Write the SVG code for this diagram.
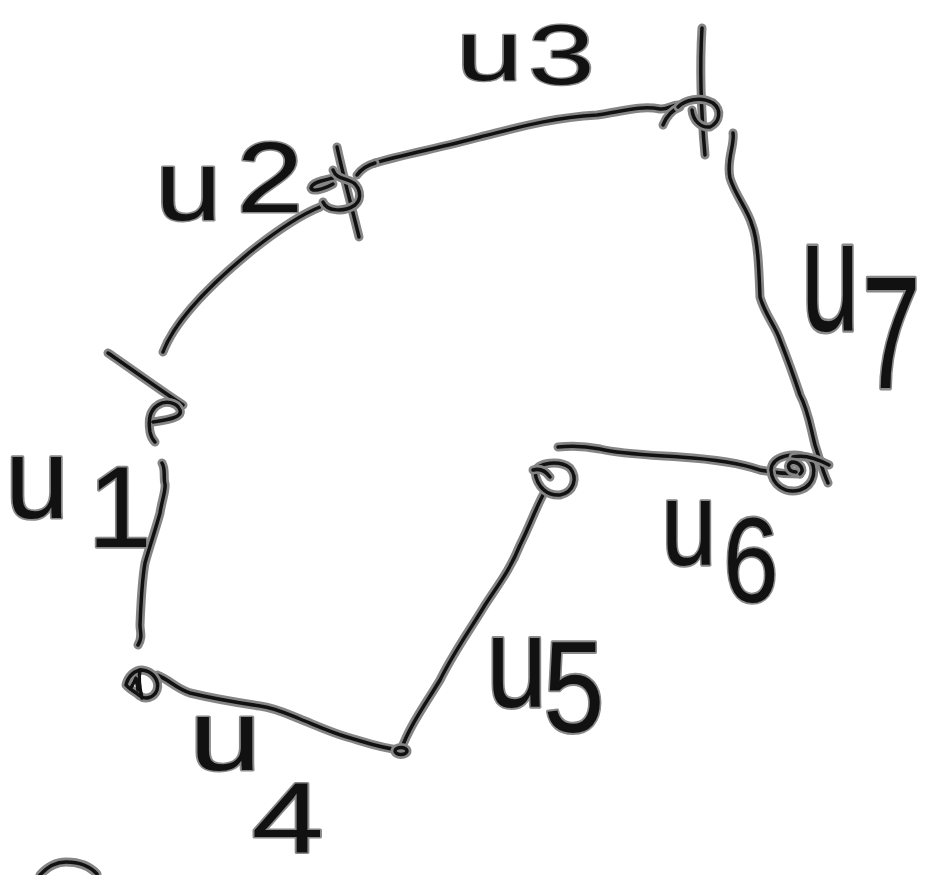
<svg xmlns="http://www.w3.org/2000/svg" xmlns:xlink="http://www.w3.org/1999/xlink" width="925" height="875" viewBox="0 0 925 875">
<style>
.h{fill:none;stroke:#858585;stroke-width:9;stroke-linecap:round;stroke-linejoin:round}
.c{fill:none;stroke:#111;stroke-width:3.5;stroke-linecap:round;stroke-linejoin:round}
.lbl{font-family:"Liberation Sans",Arial,sans-serif;font-size:100px;fill:#111;stroke:#8a8a8a;stroke-width:3;paint-order:stroke;stroke-linejoin:round}
</style>
<defs>
<path id="pe1" d="M162,463 C166,470 163,478 165,484 C166,490 162,500 160,513 C156,528 150,545 145,563 C142,580 141,600 140,625 C140,632 143,637 138,645"/>
<path id="pe2" d="M163,352 C175,320 210,285 250,252 C275,232 300,215 320,207"/>
<path id="pe3" d="M375,163 C400,155 440,148 480,137 C520,127 550,118 597,115 C620,112 640,105 660,109 C667,110 672,105 678,105"/>
<path id="pe3b" d="M663,125 C667,115 672,110 680,107"/>
<path id="pe7" d="M733,133 C735,145 726,160 730,178 C735,195 748,210 752,225 C758,240 759,270 760,297 C765,315 775,325 780,340 C788,360 795,380 800,395 C808,410 810,425 815,445 C820,460 822,470 828,483"/>
<path id="pe6" d="M558,447 C575,445 590,447 600,449 C620,454 650,455 680,457 C710,459 740,463 760,470 C770,472 790,474 800,474"/>
<path id="pe5" d="M543,495 C535,510 530,525 520,545 C510,570 498,585 485,605 C470,630 455,650 440,680 C425,705 410,725 401,750"/>
<path id="pe4" d="M400,750 C380,748 365,742 347,737 C330,732 315,725 300,719 C285,713 275,708 260,706 C240,703 215,699 190,693 C175,688 170,680 157,675"/>
<path id="pn1a" d="M108,353 C130,368 160,390 183,405"/>
<path id="pn1b" d="M153,422 C165,420 183,418 180,410 C177,402 165,400 158,405 C150,410 148,420 150,432 C151,437 153,440 155,442"/>
<path id="pn2a" d="M337,147 C343,175 352,208 359,237"/>
<path id="pn2b" d="M333,178 C325,180 312,182 311,188 C312,192 322,190 333,184"/>
<path id="pn2c" d="M323,202 C327,212 345,212 355,205 C363,198 360,185 350,181 C343,178 336,178 333,170"/>
<path id="pn2d" d="M357,175 C362,168 368,165 375,163"/>
<path id="pn3a" d="M678,107 C685,100 700,96 713,103 C722,110 720,122 710,127 C700,128 693,120 692,110"/>
<path id="pn3b" d="M702,28 C700,60 700,100 705,155"/>
<path id="pn7a" d="M771,470 C772,455 795,452 808,458 C818,467 815,485 800,490 C785,494 772,485 771,470"/>
<path id="pn7b" d="M793,457 C805,454 818,459 829,465"/>
<path id="pn7c" d="M800,474 C805,470 800,462 792,462 C786,464 788,472 796,472"/>
<path id="pn5a" d="M535,472 C538,462 560,460 570,468 C578,478 574,492 560,495 C548,496 537,488 535,472"/>
<path id="pn5b" d="M533,470 C540,468 545,470 550,477"/>
<path id="pn4l" d="M126,685 C128,676 135,670 142,670 C152,671 160,680 157,690 C154,698 145,700 140,696 C136,692 130,690 126,685 Z"/>
<path id="pn4l2" d="M140,670 C138,680 140,690 142,698"/>
<path id="pn4l3" d="M131,688 L136,678 L138,690"/>
<path id="parc" d="M40,875 C48,866 58,862 66,862 C76,862 88,864 97,874"/>
</defs>
<rect width="925" height="875" fill="#fff"/>
<g id="connectors">
<use href="#pe1" class="h"/><use href="#pe1" class="c"/>
<use href="#pe2" class="h"/><use href="#pe2" class="c"/>
<use href="#pe3" class="h"/><use href="#pe3" class="c"/>
<use href="#pe3b" class="h"/><use href="#pe3b" class="c"/>
<use href="#pe7" class="h"/><use href="#pe7" class="c"/>
<use href="#pe6" class="h"/><use href="#pe6" class="c"/>
<use href="#pe5" class="h"/><use href="#pe5" class="c"/>
<use href="#pe4" class="h"/><use href="#pe4" class="c"/>
</g>
<g id="node-left-top">
<use href="#pn1a" class="h"/><use href="#pn1a" class="c"/>
<use href="#pn1b" class="h"/><use href="#pn1b" class="c"/>
</g>
<g id="node-u2">
<use href="#pn2a" class="h"/><use href="#pn2a" class="c"/>
<use href="#pn2b" class="h"/><use href="#pn2b" class="c"/>
<use href="#pn2c" class="h"/><use href="#pn2c" class="c"/>
<use href="#pn2d" class="h"/><use href="#pn2d" class="c"/>
</g>
<g id="node-u3">
<use href="#pn3b" class="h"/><use href="#pn3b" class="c"/>
<use href="#pn3a" class="h"/><use href="#pn3a" class="c"/>
</g>
<g id="node-u7">
<use href="#pn7a" class="h"/><use href="#pn7a" class="c"/>
<use href="#pn7b" class="h"/><use href="#pn7b" class="c"/>
<use href="#pn7c" class="h"/><use href="#pn7c" class="c"/>
</g>
<g id="node-u5">
<use href="#pn5a" class="h"/><use href="#pn5a" class="c"/>
<use href="#pn5b" class="h"/><use href="#pn5b" class="c"/>
</g>
<g id="node-u4-right">
<ellipse cx="401" cy="751" rx="6" ry="3.5" class="h"/><ellipse cx="401" cy="751" rx="6" ry="3.5" class="c"/>
</g>
<g id="node-u4-left">
<use href="#pn4l" class="h"/><use href="#pn4l" class="c"/>
<use href="#pn4l2" class="c"/>
<use href="#pn4l3" class="c"/>
</g>
<g id="partial-arc">
<use href="#parc" class="h"/><use href="#parc" class="c"/>
</g>
<g id="labels">
<g transform="translate(5,518) scale(1.15,1.15)"><text class="lbl"><tspan x="0" y="0">u</tspan><tspan x="72" y="25">1</tspan></text></g>
<g transform="translate(155,220) scale(1.2,1.0)"><text class="lbl"><tspan x="0" y="0">u</tspan><tspan x="68" y="-8">2</tspan></text></g>
<g transform="translate(456,80) scale(1.2,0.85)"><text class="lbl"><tspan x="0" y="0">u</tspan><tspan x="60" y="5">3</tspan></text></g>
<g transform="translate(189,770) scale(1.3,1.0)"><text class="lbl"><tspan x="0" y="0">u</tspan><tspan x="48" y="83">4</tspan></text></g>
<g transform="translate(486,707) scale(1.1,1.3)"><text class="lbl"><tspan x="0" y="0">u</tspan><tspan x="52" y="19">5</tspan></text></g>
<g transform="translate(661,565) scale(1.0,1.2)"><text class="lbl"><tspan x="0" y="0">u</tspan><tspan x="62" y="31">6</tspan></text></g>
<g transform="translate(801,330) scale(1.05,1.6)"><text class="lbl"><tspan x="0" y="0">u</tspan><tspan x="58" y="36">7</tspan></text></g>
</g>
</svg>
